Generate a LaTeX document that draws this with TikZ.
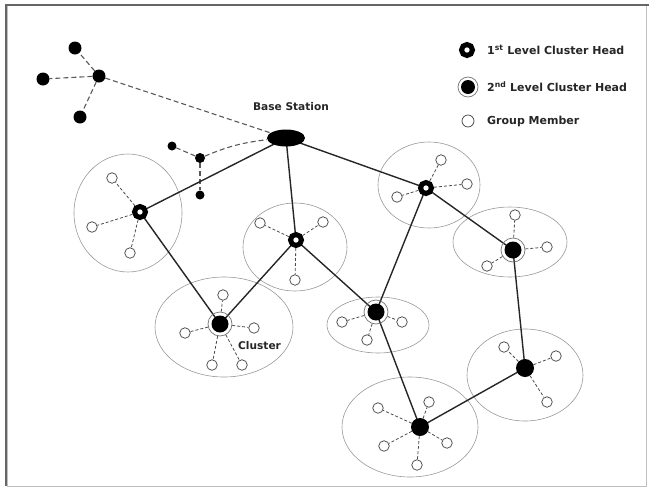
\documentclass[tikz,border=0pt]{standalone}
\usepackage{fontspec}
\setmainfont{DejaVu Sans}
\usetikzlibrary{shapes.geometric,backgrounds}
\begin{document}
\begin{tikzpicture}[x=1pt,y=-1pt,
 member/.style={circle,draw=black!75,fill=white,line width=0.7pt,minimum size=10.5pt,inner sep=0pt},
 headone/.style={circle,draw=black,line width=5pt,fill=white,minimum size=11pt,inner sep=0pt},
 headtwo/.style={circle,draw=black!55,line width=0.7pt,minimum size=24pt,inner sep=0pt,
   path picture={\fill[black] (path picture bounding box.center) circle (8.5pt);}},
 headplain/.style={circle,fill=black,minimum size=18pt,inner sep=0pt},
 sensor/.style={circle,fill=black,minimum size=13pt,inner sep=0pt},
 smallsensor/.style={circle,fill=black,minimum size=9pt,inner sep=0pt},
 zone/.style={ellipse,draw=black!40,line width=0.6pt,inner sep=0pt},
 link/.style={line width=1.4pt,black!85},
 memlink/.style={black!70,line width=0.8pt,dash pattern=on 3pt off 2pt},
 sensorlink/.style={black!65,line width=1.1pt,dash pattern=on 5pt off 3pt},
 lbl/.style={font=\bfseries\fontsize{11}{13}\selectfont,text=black!85,inner sep=0pt}
]
\useasboundingbox (0,0) rectangle (649,488);
% frame
\draw[black!25,line width=1pt] (7,5) rectangle (646,486);
\draw[black!60,line width=2.4pt] (6,486) -- (6,5) -- (649,5);

% base station
\node[ellipse,fill=black,minimum width=38pt,minimum height=17pt,inner sep=0pt] (BS) at (286,138) {};
\node[lbl,font=\bfseries\fontsize{10.6}{12}\selectfont] (BSl) at (291,107) {Base Station};

% sensors (outer group)
\node[sensor] (s0) at (99,76) {};
\node[sensor] (s1) at (75,48) {};
\node[sensor] (s2) at (43,79) {};
\node[sensor] (s3) at (80,117) {};
\node[smallsensor,minimum size=10pt] (t0) at (200,158) {};
\node[smallsensor] (t1) at (172,146) {};
\node[smallsensor] (t2) at (200,195) {};

% cluster heads
\node[headone] (A) at (140,212) {};
\node[headone] (B) at (296,240) {};
\node[headone] (C) at (426,188) {};
\node[headtwo] (D) at (220,324) {};
\node[headtwo] (E) at (376,312) {};
\node[headtwo] (F) at (513,250) {};
\node[headplain] (G) at (525,368) {};
\node[headplain] (H) at (420,427) {};

% members
\node[member] (a1) at (112,178) {};
\node[member] (a2) at (92,227) {};
\node[member] (a3) at (130,253) {};
\node[member] (b1) at (260,223) {};
\node[member] (b2) at (323,222) {};
\node[member] (b3) at (295,280) {};
\node[member] (c1) at (441,160) {};
\node[member] (c2) at (467,184) {};
\node[member] (c3) at (397,197) {};
\node[member] (d1) at (223,295) {};
\node[member] (d2) at (185,333) {};
\node[member] (d3) at (254,328) {};
\node[member] (d4) at (212,365) {};
\node[member] (d5) at (242,365) {};
\node[member] (e1) at (342,322) {};
\node[member] (e2) at (402,322) {};
\node[member] (e3) at (367,340) {};
\node[member] (f1) at (515,215) {};
\node[member] (f2) at (547,247) {};
\node[member] (f3) at (487,266) {};
\node[member] (g1) at (504,347) {};
\node[member] (g2) at (556,356) {};
\node[member] (g3) at (547,402) {};
\node[member] (h1) at (378,408) {};
\node[member] (h2) at (429,402) {};
\node[member] (h3) at (384,446) {};
\node[member] (h4) at (447,443) {};
\node[member] (h5) at (417,465) {};

\node[lbl,anchor=west,font=\bfseries\fontsize{10.6}{12}\selectfont] (cl) at (238,346) {Cluster};

% legend
\node[headone] (L1) at (467,50) {};
\node[lbl,anchor=west] (L1t) at (487,50) {1\textsuperscript{st} Level Cluster Head};
\node[headtwo,minimum size=20pt,path picture={\fill[black] (path picture bounding box.center) circle (7pt);}] (L2) at (468,87) {};
\node[lbl,anchor=west] (L2t) at (487,87) {2\textsuperscript{nd} Level Cluster Head};
\node[member,minimum size=12pt] (L3) at (468,121) {};
\node[lbl,anchor=west] (L3t) at (487,121) {Group Member};

\begin{scope}[on background layer]
 % zones
 \node[zone,minimum width=108pt,minimum height=118pt] (zA) at (128,213) {};
 \node[zone,minimum width=104pt,minimum height=88pt] (zB) at (295,247) {};
 \node[zone,minimum width=102pt,minimum height=86pt] (zC) at (429,185) {};
 \node[zone,minimum width=138pt,minimum height=100pt] (zD) at (224,327) {};
 \node[zone,minimum width=102pt,minimum height=56pt] (zE) at (378,325) {};
 \node[zone,minimum width=114pt,minimum height=70pt] (zF) at (510,242) {};
 \node[zone,minimum width=116pt,minimum height=92pt] (zG) at (525,375) {};
 \node[zone,minimum width=136pt,minimum height=100pt] (zH) at (410,427) {};
 % sensor links
 \draw[sensorlink] (s0) -- (s1);
 \draw[sensorlink] (s0) -- (s2);
 \draw[sensorlink] (s0) -- (s3);
 \draw[sensorlink] (s0) -- (BS);
 \draw[sensorlink] (t0) -- (t1);
 \draw[sensorlink] (t0) -- (t2);
 \draw[sensorlink] (t0) to[bend left=8] (BS);
 % main links
 \draw[link] (BS.center) -- (A.center);
 \draw[link] (BS.center) -- (B.center);
 \draw[link] (BS.center) -- (C.center);
 \draw[link] (A.center) -- (D.center);
 \draw[link] (B.center) -- (D.center);
 \draw[link] (B.center) -- (E.center);
 \draw[link] (C.center) -- (E.center);
 \draw[link] (C.center) -- (F.center);
 \draw[link] (E.center) -- (H.center);
 \draw[link] (F.center) -- (G.center);
 \draw[link] (G.center) -- (H.center);
 % member links
 \foreach \h/\m in {A/a1,A/a2,A/a3,B/b1,B/b2,B/b3,C/c1,C/c2,C/c3,
   D/d1,D/d2,D/d3,D/d4,D/d5,E/e1,E/e2,E/e3,F/f1,F/f2,F/f3,
   G/g1,G/g2,G/g3,H/h1,H/h2,H/h3,H/h4,H/h5}
   \draw[memlink] (\h) -- (\m);
\end{scope}
\end{tikzpicture}
\end{document}
